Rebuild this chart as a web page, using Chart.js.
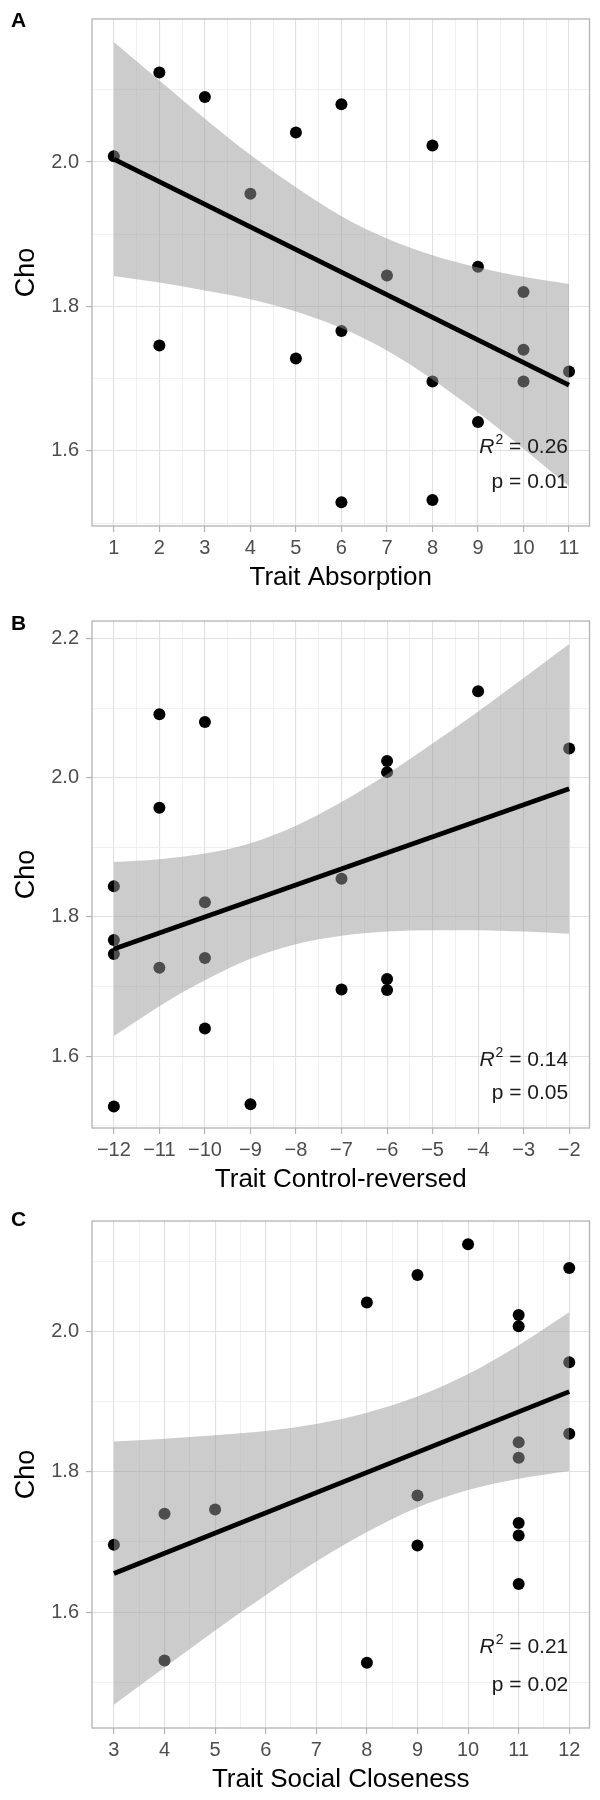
<!DOCTYPE html>
<html>
<head>
<meta charset="utf-8">
<title>Cho vs traits</title>
<script src="https://cdn.jsdelivr.net/npm/chart.js@4.4.1/dist/chart.umd.min.js"></script>
<style>
  html, body { margin: 0; padding: 0; background: #fff; width: 600px; height: 1800px; overflow: hidden; }
  canvas { position: absolute; left: 0; }
</style>
</head>
<body>
<canvas id="chartA" width="600" height="600" style="top:0px"></canvas>
<canvas id="chartB" width="600" height="600" style="top:602px"></canvas>
<canvas id="chartC" width="600" height="600" style="top:1202px"></canvas>

<script>
// ---- DATA ----

// Panel A: Trait Absorption
const absorptionX = [1, 2, 2, 3, 4, 5, 5, 6, 6, 6, 7, 8, 8, 8, 9, 9, 10, 10, 10, 11];
const absorptionCho = [2.008, 2.124, 1.746, 2.090, 1.956, 2.041, 1.728, 2.080, 1.766, 1.529,
                       1.843, 2.023, 1.696, 1.532, 1.855, 1.640, 1.820, 1.740, 1.696, 1.710];
const absorptionFitX = [1, 11];
const absorptionFitY = [2.004, 1.691];
const absorptionBandX = [1, 2, 3, 4, 5, 6, 7, 8, 9, 10, 11];
const absorptionBandHi = [2.166, 2.113, 2.060, 2.010, 1.965, 1.925, 1.894, 1.871, 1.854, 1.841, 1.831];
const absorptionBandLo = [1.842, 1.833, 1.822, 1.810, 1.793, 1.770, 1.739, 1.699, 1.653, 1.603, 1.551];
const absorptionXTicks = [1, 2, 3, 4, 5, 6, 7, 8, 9, 10, 11];
const absorptionYTicks = [1.6, 1.8, 2.0];

// Panel B: Trait Control-reversed
const controlX = [-12, -12, -12, -12, -11, -11, -11, -10, -10, -10, -10, -9, -7, -7, -6, -6, -6, -6, -4, -2];
const controlCho = [1.844, 1.767, 1.747, 1.528, 2.091, 1.957, 1.727, 2.080, 1.821, 1.741,
                    1.640, 1.531, 1.855, 1.696, 2.024, 2.008, 1.711, 1.695, 2.124, 2.042];
const controlFitX = [-12, -2];
const controlFitY = [1.754, 1.984];
const controlBandX = [-12, -11, -10, -9, -8, -7, -6, -5, -4, -3, -2];
const controlBandHi = [1.879, 1.883, 1.891, 1.906, 1.931, 1.965, 2.005, 2.049, 2.095, 2.143, 2.192];
const controlBandLo = [1.629, 1.672, 1.709, 1.740, 1.761, 1.773, 1.779, 1.781, 1.781, 1.779, 1.776];
const controlXTicks = [-12, -11, -10, -9, -8, -7, -6, -5, -4, -3, -2];
const controlYTicks = [1.6, 1.8, 2.0, 2.2];

// Panel C: Trait Social Closeness
const socialX = [3, 4, 4, 5, 8, 8, 9, 9, 9, 10, 11, 11, 11, 11, 11, 11, 11, 12, 12, 12];
const socialCho = [1.696, 1.740, 1.531, 1.746, 2.041, 1.528, 2.080, 1.766, 1.695, 2.124,
                   2.023, 2.007, 1.842, 1.820, 1.727, 1.709, 1.640, 2.090, 1.956, 1.854];
const socialFitX = [3, 12];
const socialFitY = [1.655, 1.914];
const socialBandX = [3, 4, 5, 6, 7, 8, 9, 10, 11, 12];
const socialBandHi = [1.843, 1.847, 1.852, 1.858, 1.868, 1.884, 1.907, 1.939, 1.980, 2.027];
const socialBandLo = [1.468, 1.521, 1.574, 1.624, 1.672, 1.714, 1.749, 1.774, 1.790, 1.801];
const socialXTicks = [3, 4, 5, 6, 7, 8, 9, 10, 11, 12];
const socialYTicks = [1.6, 1.8, 2.0];

// statistik
const r2Values = ['0.26', '0.14', '0.21'];
const pValues = ['0.01', '0.05', '0.02'];

const FONT = '"Liberation Sans", Arial, Helvetica, sans-serif';

// gabungkan dua array menjadi titik {x, y}
function toPoints(xs, ys) {
    return xs.map((x, i) => ({ x: x, y: ys[i] }));
}

// grid minor ada di tengah-tengah antar tick mayor
function withMinor(major, min, max) {
    const step = major[1] - major[0];
    const all = [];
    major.forEach(v => { all.push(v - step / 2); all.push(v); });
    all.push(major[major.length - 1] + step / 2);
    return all.filter(v => v >= min && v <= max);
}

function isMajor(major, v) {
    return major.some(m => Math.abs(m - v) < 1e-6);
}

function fmt(v, digits) {
    return v.toFixed(digits).replace('-', '\u2212');
}

// plugin: border panel, huruf panel, teks R2 / p
const panelDecor = {
    id: 'panelDecor',
    afterDatasetsDraw(chart, args, opts) {
        const ctx = chart.ctx;
        const area = chart.chartArea;
        ctx.save();
        // R2 dan p
        const xr = chart.scales.x.getPixelForValue(opts.xRight) - 1;
        const y1 = area.bottom - opts.statOffsets[0];
        const y2 = area.bottom - opts.statOffsets[1];
        ctx.fillStyle = '#1a1a1a';
        ctx.textAlign = 'right';
        ctx.textBaseline = 'alphabetic';
        ctx.font = '21px ' + FONT;
        const rest = ' = ' + opts.r2;
        ctx.fillText(rest, xr, y1);
        let w = ctx.measureText(rest).width;
        ctx.font = '14px ' + FONT;
        ctx.fillText('2', xr - w, y1 - 9);
        w += ctx.measureText('2').width + 1;
        ctx.font = 'italic 21px ' + FONT;
        ctx.fillText('R', xr - w, y1);
        ctx.font = '21px ' + FONT;
        ctx.fillText('p = ' + opts.p, xr, y2);
        ctx.restore();
    },
    afterDraw(chart, args, opts) {
        const ctx = chart.ctx;
        const a = chart.chartArea;
        ctx.save();
        ctx.strokeStyle = '#b3b3b3';
        ctx.lineWidth = 1.3;
        ctx.strokeRect(a.left, a.top, a.right - a.left, a.bottom - a.top);
        ctx.fillStyle = '#000';
        ctx.font = 'bold 21px ' + FONT;
        ctx.textAlign = 'left';
        ctx.textBaseline = 'alphabetic';
        ctx.fillText(opts.letter, 11, opts.letterY);
        ctx.restore();
    }
};

function makePanel(cfg) {
    const xAll = withMinor(cfg.xTicks, cfg.xMin, cfg.xMax);
    const yAll = withMinor(cfg.yTicks, cfg.yMin, cfg.yMax);

    const gridOpts = major => ({
        color: c => isMajor(major, c.tick.value) ? '#e0e0e0' : '#ececec',
        lineWidth: c => isMajor(major, c.tick.value) ? 1.1 : 0.8,
        tickColor: c => isMajor(major, c.tick.value) ? '#b3b3b3' : 'rgba(0,0,0,0)',
        tickWidth: 1.2,
        tickLength: 6
    });

    new Chart(document.getElementById(cfg.canvas), {
        type: 'scatter',
        data: {
            datasets: [
                {
                    type: 'line',
                    data: toPoints(cfg.fitX, cfg.fitY),
                    borderColor: '#000',
                    borderWidth: 4.8,
                    pointRadius: 0,
                    fill: false,
                    order: 0
                },
                {
                    type: 'line',
                    data: toPoints(cfg.bandX, cfg.bandHi),
                    borderColor: 'rgba(0,0,0,0)',
                    borderWidth: 0,
                    backgroundColor: 'rgba(153,153,153,0.5)',
                    pointRadius: 0,
                    fill: '+1',
                    cubicInterpolationMode: 'monotone',
                    order: 1
                },
                {
                    type: 'line',
                    data: toPoints(cfg.bandX, cfg.bandLo),
                    borderColor: 'rgba(0,0,0,0)',
                    borderWidth: 0,
                    pointRadius: 0,
                    fill: false,
                    cubicInterpolationMode: 'monotone',
                    order: 1
                },
                {
                    data: toPoints(cfg.x, cfg.y),
                    backgroundColor: '#000',
                    borderWidth: 0,
                    pointRadius: 6,
                    order: 2
                }
            ]
        },
        options: {
            responsive: false,
            animation: false,
            layout: { padding: { top: cfg.padTop, right: 10.5, left: 0, bottom: 0 } },
            plugins: {
                legend: { display: false },
                tooltip: { enabled: false },
                panelDecor: {
                    letter: cfg.letter,
                    letterY: cfg.letterY,
                    r2: cfg.r2,
                    p: cfg.p,
                    xRight: cfg.xTicks[cfg.xTicks.length - 1],
                    statOffsets: cfg.statOffsets
                }
            },
            scales: {
                x: {
                    type: 'linear',
                    min: cfg.xMin,
                    max: cfg.xMax,
                    afterBuildTicks: s => { s.ticks = xAll.map(v => ({ value: v })); },
                    afterFit: s => { s.height = 74; },
                    grid: gridOpts(cfg.xTicks),
                    border: { display: false },
                    ticks: {
                        autoSkip: false,
                        maxRotation: 0,
                        padding: 4,
                        color: '#4d4d4d',
                        font: { family: FONT, size: 20 },
                        callback: v => isMajor(cfg.xTicks, v) ? fmt(v, 0) : ''
                    },
                    title: {
                        display: true,
                        text: cfg.xTitle,
                        color: '#000',
                        font: { family: FONT, size: 26 },
                        padding: { top: 0, bottom: 7 }
                    }
                },
                y: {
                    type: 'linear',
                    min: cfg.yMin,
                    max: cfg.yMax,
                    afterBuildTicks: s => { s.ticks = yAll.map(v => ({ value: v })); },
                    afterFit: s => { s.width = 92; },
                    grid: gridOpts(cfg.yTicks),
                    border: { display: false },
                    ticks: {
                        autoSkip: false,
                        padding: 7,
                        color: '#4d4d4d',
                        font: { family: FONT, size: 20 },
                        callback: v => isMajor(cfg.yTicks, v) ? fmt(v, 1) : ''
                    },
                    title: {
                        display: true,
                        text: 'Cho',
                        color: '#000',
                        font: { family: FONT, size: 27 },
                        padding: { top: 10, bottom: 0 }
                    }
                }
            }
        },
        plugins: [panelDecor]
    });
}

makePanel({
    canvas: 'chartA', letter: 'A', letterY: 27, padTop: 15,
    x: absorptionX, y: absorptionCho,
    fitX: absorptionFitX, fitY: absorptionFitY,
    bandX: absorptionBandX, bandHi: absorptionBandHi, bandLo: absorptionBandLo,
    xTicks: absorptionXTicks, yTicks: absorptionYTicks,
    xMin: 0.52, xMax: 11.45, yMin: 1.496, yMax: 2.198,
    xTitle: 'Trait Absorption', r2: r2Values[0], p: pValues[0], statOffsets: [73, 38]
});

makePanel({
    canvas: 'chartB', letter: 'B', letterY: 28, padTop: 16,
    x: controlX, y: controlCho,
    fitX: controlFitX, fitY: controlFitY,
    bandX: controlBandX, bandHi: controlBandHi, bandLo: controlBandLo,
    xTicks: controlXTicks, yTicks: controlYTicks,
    xMin: -12.48, xMax: -1.554, yMin: 1.497, yMax: 2.225,
    xTitle: 'Trait Control-reversed', r2: r2Values[1], p: pValues[1], statOffsets: [62, 29]
});

makePanel({
    canvas: 'chartC', letter: 'C', letterY: 24, padTop: 17,
    x: socialX, y: socialCho,
    fitX: socialFitX, fitY: socialFitY,
    bandX: socialBandX, bandHi: socialBandHi, bandLo: socialBandLo,
    xTicks: socialXTicks, yTicks: socialYTicks,
    xMin: 2.567, xMax: 12.40, yMin: 1.435, yMax: 2.157,
    xTitle: 'Trait Social Closeness', r2: r2Values[2], p: pValues[2], statOffsets: [75, 37]
});
</script>
</body>
</html>
